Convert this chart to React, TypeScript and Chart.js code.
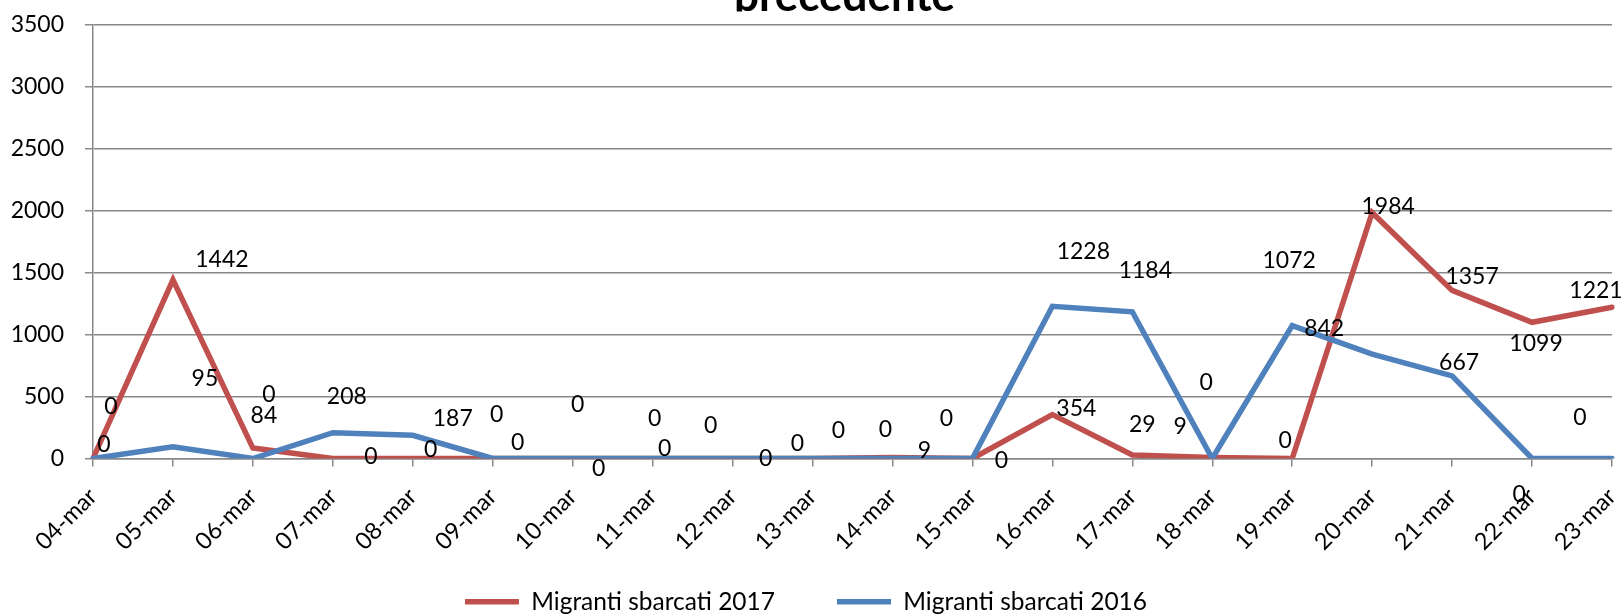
import React, { useEffect, useRef } from "react";
import { Chart, registerables } from "chart.js";

Chart.register(...registerables);

const categories = [
  "04-mar", "05-mar", "06-mar", "07-mar", "08-mar", "09-mar", "10-mar",
  "11-mar", "12-mar", "13-mar", "14-mar", "15-mar", "16-mar", "17-mar",
  "18-mar", "19-mar", "20-mar", "21-mar", "22-mar", "23-mar",
];
const sbarcati2017 = [0, 1442, 84, 0, 0, 0, 0, 0, 0, 0, 9, 0, 354, 29, 9, 0, 1984, 1357, 1099, 1221];
const sbarcati2016 = [0, 95, 0, 208, 187, 0, 0, 0, 0, 0, 0, 0, 1228, 1184, 0, 1072, 842, 667, 0, 0];
const seriesNames = ["Migranti sbarcati 2017", "Migranti sbarcati 2016"];
const yMin = 0;
const yMax = 3500;
const yStep = 500;
const titleText = "precedente";

// pixel nudges of each value label relative to its point (label placement, not data)
const nudge2017 = [
  [18, -52], [49, -20], [11, -33], [38, -2], [18, -9], [4, -44], [5, -54], [2, -40],
  [-22, -33], [-15, -15], [32, -7], [-26, -40], [24, -6], [10, -30], [-32, -31],
  [-7, -18], [16, -6], [20, -14], [4, 21], [-16, -17],
];
const nudge2016 = [
  [11, -14], [32, -68], [16, -64], [14, -36], [40, -17], [25, -16], [26, 10], [12, -10],
  [33, 0], [26, -28], [-7, -29], [29, 2], [31, -55], [13, -41], [-6, -76],
  [-3, -65], [-48, -26], [7, -13], [-13, 36], [-32, -41],
];

const RED = "#C0504D";
const BLUE = "#4F81BD";
const GRID = "#888888";
const FONT = "Lato";

const CANVAS_W = 1623;
const CANVAS_H = 624;
const LEGEND_FONT = 24.5;
const LEGEND_PAD = 62;
const PLOT_BOTTOM = 458.5;

const valueLabels = {
  id: "valueLabels",
  afterDatasetsDraw(chart: any) {
    const ctx = chart.ctx;
    ctx.save();
    ctx.font = `23px ${FONT}`;
    ctx.fillStyle = "#000";
    ctx.textAlign = "center";
    ctx.textBaseline = "middle";
    chart.data.datasets.forEach((ds: any, di: number) => {
      const meta = chart.getDatasetMeta(di);
      const nudges = ds.labelNudges || [];
      meta.data.forEach((pt: any, i: number) => {
        const n = nudges[i] || [0, -14];
        ctx.fillText(String(ds.data[i]), pt.x + n[0], pt.y + n[1]);
      });
    });
    ctx.restore();
  },
};

const cutTitle = {
  id: "cutTitle",
  afterDraw(chart: any) {
    const ctx = chart.ctx;
    const area = chart.chartArea;
    ctx.save();
    ctx.beginPath();
    ctx.rect(0, 0, chart.width, 11.5);
    ctx.clip();
    ctx.font = `bold 44px ${FONT}`;
    ctx.fillStyle = "#000";
    ctx.textAlign = "center";
    ctx.textBaseline = "alphabetic";
    ctx.fillText(titleText, (area.left + area.right) / 2 - 8, 11);
    ctx.restore();
  },
};

// let rotated category labels run below the axis box (into the legend gap) without clipping
const unclipXLabels = {
  id: "unclipXLabels",
  afterLayout(chart: any) {
    if (chart.scales.x) chart.scales.x.bottom = chart.height;
  },
};

export default function App() {
  const ref = useRef<HTMLCanvasElement | null>(null);

  useEffect(() => {
    if (!ref.current) return;
    const legendHeight = LEGEND_FONT + LEGEND_PAD + 10;
    const chart = new Chart(ref.current, {
      type: "line",
      data: {
        labels: categories,
        datasets: [
          {
            label: seriesNames[0],
            data: sbarcati2017,
            borderColor: RED,
            backgroundColor: RED,
            borderWidth: 5.5,
            borderCapStyle: "round",
            pointRadius: 0,
            pointHoverRadius: 0,
            tension: 0,
            order: 2,
            labelNudges: nudge2017,
          } as any,
          {
            label: seriesNames[1],
            data: sbarcati2016,
            borderColor: BLUE,
            backgroundColor: BLUE,
            borderWidth: 5.5,
            borderCapStyle: "round",
            pointRadius: 0,
            pointHoverRadius: 0,
            tension: 0,
            order: 1,
            labelNudges: nudge2016,
          } as any,
        ],
      },
      options: {
        responsive: false,
        animation: false,
        events: [],
        layout: { padding: { top: 24.8, right: 11, bottom: 0, left: 0 } },
        plugins: {
          title: { display: false },
          tooltip: { enabled: false },
          legend: {
            display: true,
            position: "bottom",
            labels: {
              usePointStyle: true,
              pointStyle: "line",
              pointStyleWidth: 54,
              padding: LEGEND_PAD,
              color: "#000",
              font: { family: FONT, size: LEGEND_FONT },
              sort: (a: any, b: any) => a.datasetIndex - b.datasetIndex,
            },
          },
        },
        scales: {
          x: {
            offset: false,
            grid: {
              drawOnChartArea: false,
              drawTicks: true,
              tickLength: 8,
              color: GRID,
              lineWidth: 1.5,
            },
            border: { color: GRID, width: 1.5 },
            ticks: {
              autoSkip: false,
              minRotation: 45,
              maxRotation: 45,
              padding: 16,
              color: "#000",
              font: { family: FONT, size: 23.5 },
            },
            afterFit: (s: any) => {
              s.height = CANVAS_H - legendHeight - PLOT_BOTTOM;
              s.paddingLeft = 0;
              s.paddingRight = 0;
            },
          },
          y: {
            min: yMin,
            max: yMax,
            ticks: {
              stepSize: yStep,
              padding: 21,
              color: "#000",
              font: { family: FONT, size: 23 },
              callback: (v: any) => String(v),
            },
            grid: { color: GRID, lineWidth: 1.5, tickLength: 8, drawTicks: true },
            border: { color: GRID, width: 1.5 },
            afterFit: (s: any) => {
              s.width = 93;
              s.paddingTop = 0;
              s.paddingBottom = 0;
            },
          },
        },
      },
      plugins: [valueLabels, cutTitle, unclipXLabels],
    });
    return () => chart.destroy();
  }, []);

  return (
    <div
      style={{
        position: "absolute",
        left: 0,
        top: 0,
        width: 1623,
        height: 616,
        overflow: "hidden",
        background: "#fff",
      }}
    >
      <canvas ref={ref} width={CANVAS_W} height={CANVAS_H} style={{ display: "block" }} />
    </div>
  );
}
